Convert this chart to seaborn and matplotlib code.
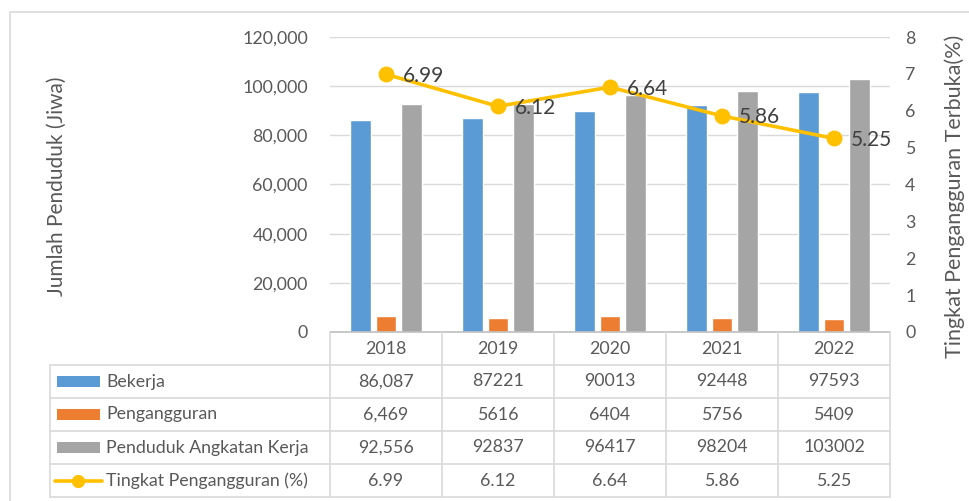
import numpy as np
import pandas as pd
import matplotlib
matplotlib.use("Agg")
import matplotlib.pyplot as plt
from matplotlib.patches import Rectangle
from matplotlib.lines import Line2D
from matplotlib.ticker import FuncFormatter
import seaborn as sns

# data
years = ["2018", "2019", "2020", "2021", "2022"]
bekerja = [86087, 87221, 90013, 92448, 97593]
pengangguran = [6469, 5616, 6404, 5756, 5409]
angkatan_kerja = [92556, 92837, 96417, 98204, 103002]
tingkat = [6.99, 6.12, 6.64, 5.86, 5.25]

series = ["Bekerja", "Pengangguran", "Penduduk Angkatan Kerja"]
line_name = "Tingkat Pengangguran (%)"
colors = ["#5B9BD5", "#ED7D31", "#A5A5A5"]
line_color = "#FFC000"
txt = "#595959"
grid_c = "#D9D9D9"

sns.set_theme(style="white")
plt.rcParams["font.family"] = ["Lato", "DejaVu Sans"]
fs = 12.8

df = pd.DataFrame({
    "Tahun": years * 3,
    "Seri": [s for s in series for _ in years],
    "Jumlah": bekerja + pengangguran + angkatan_kerja,
})

W, H = 970, 501
fig = plt.figure(figsize=(W / 100, H / 100), dpi=100)

def fr(x0, y0, x1, y1):
    # pixel box -> figure fraction
    return [x0 / W, 1 - y1 / H, (x1 - x0) / W, (y1 - y0) / H]

# outer frame
fig.patches.append(Rectangle((10 / W, 1 - 505 / H), 970 / W, 493 / H,
                             transform=fig.transFigure, fill=False,
                             edgecolor="#D9D9D9", lw=1.2, clip_on=False))

ax = fig.add_axes(fr(330, 37, 890, 332))
sns.barplot(data=df, x="Tahun", y="Jumlah", hue="Seri", palette=colors,
            width=0.68, gap=0.18, ax=ax, legend=False, saturation=1)
ax.set_ylim(0, 120000)
ax.set_yticks(np.arange(0, 120001, 20000))
ax.yaxis.set_major_formatter(FuncFormatter(lambda v, p: f"{int(v):,}"))
ax.tick_params(axis="y", length=0, pad=16, labelsize=fs, labelcolor=txt)
ax.tick_params(axis="x", length=0, labelbottom=False)
ax.set_xlabel("")
ax.set_ylabel("")
ax.grid(axis="y", color=grid_c, lw=1)
ax.set_axisbelow(True)
for s in ax.spines.values():
    s.set_visible(False)

ax2 = ax.twinx()
sns.pointplot(x=years, y=tingkat, ax=ax2, color=line_color,
              markers="o", markersize=9.5, linewidth=2.6)
ax2.set_ylim(0, 8)
ax2.set_yticks(range(0, 9))
ax2.tick_params(axis="y", length=0, pad=11, labelsize=fs, labelcolor=txt)
ax2.tick_params(axis="x", length=0, labelbottom=False)
ax2.set_xlim(-0.5, 4.5)
for s in ax2.spines.values():
    s.set_visible(False)
for i, v in enumerate(tingkat):
    ax2.annotate(f"{v:.2f}", (i, v), xytext=(12, -1), textcoords="offset points",
                 ha="left", va="center", fontsize=15, color="#404040")

fig.text(57 / W, 1 - 186 / H, "Jumlah Penduduk (Jiwa)", rotation=90,
         ha="center", va="center", fontsize=15, color=txt)
fig.text(955 / W, 1 - 196 / H, "Tingkat Pengangguran Terbuka(%)", rotation=90,
         ha="center", va="center", fontsize=15.5, color=txt)

# data table
tax = fig.add_axes(fr(50, 332, 890, 497))
tax.set_xlim(-3, 4.5)
tax.set_ylim(5, 0)
tax.axis("off")
lc = "#D9D9D9"
tax.plot([-0.5, 4.5], [0, 0], color="#BFBFBF", lw=1.2, clip_on=False)
for r in range(1, 6):
    tax.plot([-3, 4.5], [r, r], color=lc, lw=1.2, clip_on=False)
tax.plot([-3, -3], [1, 5], color=lc, lw=1.2, clip_on=False)
for c in np.arange(-0.5, 5, 1):
    tax.plot([c, c], [0, 5], color=lc, lw=1.2, clip_on=False)

for i, y in enumerate(years):
    tax.text(i, 0.5, y, ha="center", va="center", fontsize=fs, color=txt)

rows = [bekerja, pengangguran, angkatan_kerja]
for r, vals in enumerate(rows):
    for i, v in enumerate(vals):
        s = f"{v:,}" if i == 0 else str(v)
        tax.text(i, r + 1.5, s, ha="center", va="center", fontsize=fs, color=txt)
for i, v in enumerate(tingkat):
    tax.text(i, 4.5, f"{v:.2f}", ha="center", va="center", fontsize=fs, color=txt)

kx0, kx1 = -3 + 7 / 112, -3 + 50 / 112
for r, (name, c) in enumerate(zip(series, colors)):
    tax.add_patch(Rectangle((kx0, r + 1.5 - 0.16), kx1 - kx0, 0.32,
                            facecolor=c, edgecolor="none"))
    tax.text(-3 + 56 / 112, r + 1.5, name, ha="left", va="center",
             fontsize=fs, color=txt)
tax.add_line(Line2D([-3 + 5 / 112, -3 + 52 / 112], [4.5, 4.5],
                    color=line_color, lw=2.6))
tax.add_line(Line2D([-3 + 28 / 112], [4.5], color=line_color, marker="o",
                    markersize=8.5, lw=0))
tax.text(-3 + 56 / 112, 4.5, line_name, ha="left", va="center",
         fontsize=fs, color=txt)

fig.savefig("out.png", dpi=100)
